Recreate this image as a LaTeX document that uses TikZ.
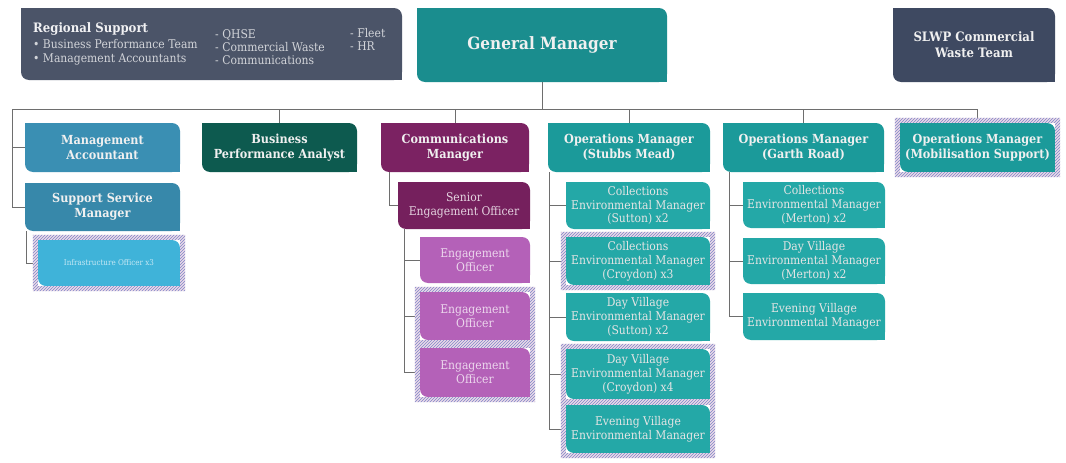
\documentclass[tikz,border=0pt]{standalone}
\usepackage{fontspec}
\setmainfont{DejaVu Serif}[FakeStretch=0.9]
\usetikzlibrary{calc,patterns}

\definecolor{slate}{HTML}{4B5468}
\definecolor{slwpcol}{HTML}{3E4961}
\definecolor{gmteal}{HTML}{1A8D8E}
\definecolor{acctblue}{HTML}{3A8FB3}
\definecolor{infrablue}{HTML}{3FB3D9}
\definecolor{bpagreen}{HTML}{0D5A4F}
\definecolor{plum}{HTML}{7B2262}
\definecolor{orchid}{HTML}{B461B8}
\definecolor{opsteal}{HTML}{1B9A9A}
\definecolor{subteal}{HTML}{24A8A7}
\definecolor{linkgrey}{HTML}{6E6E6E}
\definecolor{hatchbg}{HTML}{EADAE8}
\definecolor{hatchline}{HTML}{7F86C9}

% box with two rounded corners (top right, bottom left)
\newcommand{\leafpath}[1]{%
  \fill[#1,rounded corners=8pt] (path picture bounding box.south west) rectangle (path picture bounding box.north east);
  \fill[#1] (path picture bounding box.north west) rectangle ++(9pt,-9pt);
  \fill[#1] (path picture bounding box.south east) rectangle ++(-9pt,9pt);}

% striped frame round a box
\newcommand{\hatchframe}[1]{%
  \fill[hatchbg,even odd rule] ($(#1.north west)+(-5pt,5pt)$) rectangle ($(#1.south east)+(5pt,-5pt)$)
    (#1.north west) rectangle (#1.south east);
  \fill[pattern=north east lines,pattern color=hatchline,even odd rule]
    ($(#1.north west)+(-5pt,5pt)$) rectangle ($(#1.south east)+(5pt,-5pt)$)
    (#1.north west) rectangle (#1.south east);}

\tikzset{
  leaf/.style={rectangle,inner sep=2pt,align=center,path picture={\leafpath{#1}}},
  head/.style={font=\bfseries\fontsize{12.5}{15}\selectfont,text=white!94!black},
  sub/.style={font=\fontsize{12}{13.8}\selectfont,text=white!90!black},
  wh/.style 2 args={minimum width=#1pt,minimum height=#2pt},
  link/.style={draw=linkgrey,line width=0.9pt},
  regtxt/.style={anchor=base west,inner sep=0pt,font=\fontsize{12}{14}\selectfont,text=white!75!slate},
}

\begin{document}
\begin{tikzpicture}[x=1pt,y=-1pt]
  \useasboundingbox[fill=white] (0,0) rectangle (1066,463);

  % top row
  \node[leaf=slate,wh={381}{72}] (reg) at (211.5,44) {};
  \node[regtxt,font=\bfseries\fontsize{13}{15}\selectfont,text=white!92!slate] (regtitle) at (33,32) {Regional Support};
  \node[regtxt] (rega) at (33,48) {\textbullet\ Business Performance Team};
  \node[regtxt] (regb) at (33,62) {\textbullet\ Management Accountants};
  \node[regtxt] (regc) at (215,38) {- QHSE};
  \node[regtxt] (regd) at (215,51) {- Commercial Waste};
  \node[regtxt] (rege) at (215,64) {- Communications};
  \node[regtxt] (regf) at (350,37) {- Fleet};
  \node[regtxt] (regg) at (350,50) {- HR};

  \node[leaf=gmteal,wh={250}{74},head,font=\bfseries\fontsize{17}{19}\selectfont] (gm) at (542,45) {General Manager};
  \node[leaf=slwpcol,wh={162}{74},head,font=\bfseries\fontsize{13}{16}\selectfont] (slwp) at (974,45) {SLWP Commercial\\Waste Team};

  % managers
  \node[leaf=acctblue,wh={155}{49},head] (ma) at (102.5,147.5) {Management\\Accountant};
  \node[leaf=bpagreen,wh={155}{49},head] (bpa) at (279.5,147.5) {Business\\Performance Analyst};
  \node[leaf=plum,wh={148}{49},head] (comm) at (455,147.5) {Communications\\Manager};
  \node[leaf=opsteal,wh={162}{49},head] (opsm) at (629,147.5) {Operations Manager\\(Stubbs Mead)};
  \node[leaf=opsteal,wh={161}{49},head] (opgr) at (803.5,147.5) {Operations Manager\\(Garth Road)};
  \node[leaf=opsteal,wh={155}{49},head] (mob) at (977.5,147.5) {Operations Manager\\(Mobilisation Support)};

  % support column
  \node[leaf=acctblue!95!black,wh={155}{48},head] (ssm) at (102.5,207) {Support Service\\Manager};
  \node[leaf=infrablue,wh={142}{46},sub,font=\fontsize{8}{10}\selectfont,text=white!70!infrablue] (infra) at (109,263) {Infrastructure Officer x3};

  % communications column
  \node[leaf=plum!95!black,wh={132}{47},sub,text=white!80!plum] (seo) at (464,205.5) {Senior\\Engagement Officer};
  \node[leaf=orchid,wh={110}{46},sub,text=white!75!orchid] (eo1) at (475,260) {Engagement\\Officer};
  \node[leaf=orchid,wh={110}{48},sub,text=white!75!orchid] (eo2) at (475,316) {Engagement\\Officer};
  \node[leaf=orchid,wh={110}{49},sub,text=white!75!orchid] (eo3) at (475,372.5) {Engagement\\Officer};

  % stubbs mead column
  \node[leaf=subteal,wh={144}{47},sub] (sm1) at (638,205.5) {Collections\\Environmental Manager\\(Sutton) x2};
  \node[leaf=subteal,wh={144}{48},sub] (sm2) at (638,261) {Collections\\Environmental Manager\\(Croydon) x3};
  \node[leaf=subteal,wh={144}{48},sub] (sm3) at (638,317) {Day Village\\Environmental Manager\\(Sutton) x2};
  \node[leaf=subteal,wh={144}{50},sub] (sm4) at (638,374) {Day Village\\Environmental Manager\\(Croydon) x4};
  \node[leaf=subteal,wh={144}{48},sub] (sm5) at (638,429) {Evening Village\\Environmental Manager};

  % garth road column
  \node[leaf=subteal,wh={142}{46},sub] (gr1) at (814,205) {Collections\\Environmental Manager\\(Merton) x2};
  \node[leaf=subteal,wh={142}{46},sub] (gr2) at (814,261) {Day Village\\Environmental Manager\\(Merton) x2};
  \node[leaf=subteal,wh={142}{47},sub] (gr3) at (814,316.5) {Evening Village\\Environmental Manager};

  % connectors
  \coordinate (bus) at (12,109);
  \draw[link] (gm.south) -- (gm.south |- bus);
  \draw[link] (bus) -- (mob.north |- bus) -- (mob.north);
  \foreach \n in {bpa,comm,opsm,opgr}
    \draw[link] (\n.north |- bus) -- (\n.north);
  \draw[link] (bus) |- (ma.west);
  \draw[link] (bus) |- (ssm.west);
  \draw[link] ($(ssm.south west)+(2pt,0)$) |- (infra.west);
  \draw[link] ($(comm.south west)+(9pt,0)$) |- (seo.west);
  \foreach \n in {eo1,eo2,eo3}
    \draw[link] ($(seo.south west)+(7pt,0)$) |- (\n.west);
  \foreach \n in {sm1,sm2,sm3,sm4,sm5}
    \draw[link] ($(opsm.south west)+(2pt,0)$) |- (\n.west);
  \foreach \n in {gr1,gr2,gr3}
    \draw[link] ($(opgr.south west)+(7pt,0)$) |- (\n.west);

  % striped frames
  \foreach \n in {mob,infra,eo2,eo3,sm2,sm4,sm5}
    \hatchframe{\n};

\end{tikzpicture}
\end{document}
